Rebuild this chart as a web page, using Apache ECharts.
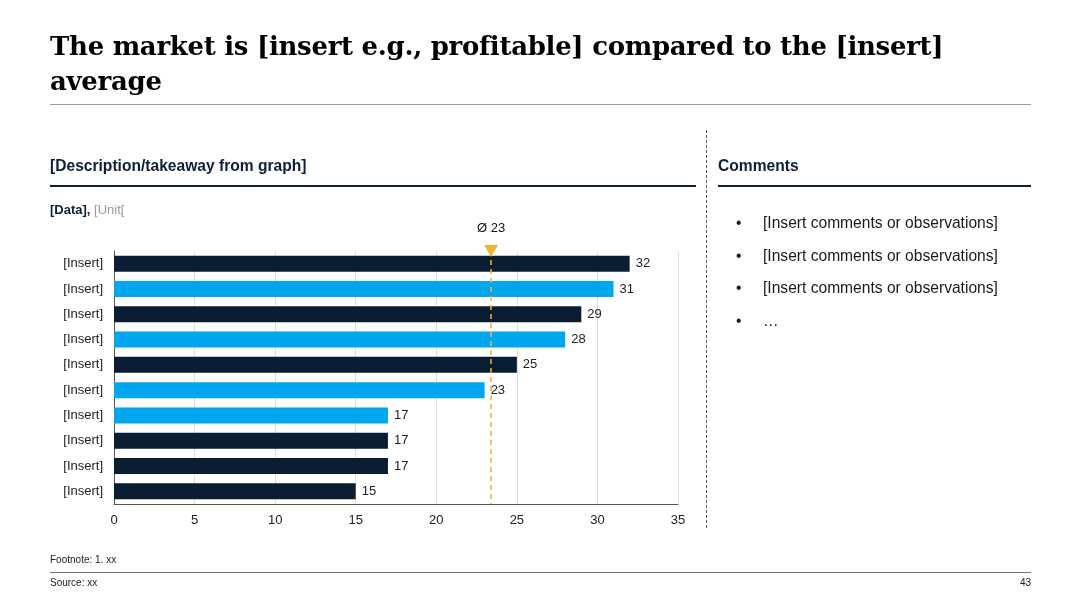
<!DOCTYPE html>
<html>
<head>
<meta charset="utf-8">
<script src="https://cdn.jsdelivr.net/npm/echarts@6/dist/echarts.min.js"></script>
<style>
  html, body { margin:0; padding:0; background:#fff; }
  #page { position:relative; width:1080px; height:608px; overflow:hidden; font-family: "Liberation Sans", Arial, sans-serif; color:#0d1f33; }
  #chart { position:absolute; left:0; top:0; width:1080px; height:608px; }
  .abs { position:absolute; white-space:nowrap; }
  #title { left:50px; top:29px; font-family:"DejaVu Serif", Georgia, serif; font-weight:bold; font-size:26px; line-height:35px; color:#000; letter-spacing:-0.3px; }
  .rule { position:absolute; height:0; }
  .h2 { font-weight:bold; font-size:15.6px; color:#0d1f33; }
  .bullets { font-size:15.6px; color:#1a1a1a; }
  .small { font-size:10px; color:#222; }
</style>
</head>
<body>
<div id="page">
  <div id="chart"></div>
  <div id="title" class="abs">The market is [insert e.g., profitable] compared to the [insert]<br>average</div>
  <div class="rule" style="left:50px; top:104px; width:981px; border-top:1px solid #9a9a9a;"></div>

  <div class="abs h2" style="left:50px; top:157px;">[Description/takeaway from graph]</div>
  <div class="rule" style="left:50px; top:185px; width:646px; border-top:2px solid #0d1f33;"></div>
  <div class="abs" style="left:50px; top:202px; font-size:13px;"><b>[Data],</b> <span style="color:#9a9a9a;">[Unit[</span></div>

  <div class="rule" style="left:706px; top:130px; width:0; height:398px; border-left:1.5px dashed #555;"></div>

  <div class="abs h2" style="left:718px; top:157px;">Comments</div>
  <div class="rule" style="left:718px; top:185px; width:313px; border-top:2px solid #0d1f33;"></div>
  <div id="comments"></div>

  <div class="abs small" style="left:50px; top:554px;">Footnote: 1. xx</div>
  <div class="rule" style="left:50px; top:572px; width:981px; border-top:1px solid #777;"></div>
  <div class="abs small" style="left:50px; top:577px;">Source: xx</div>
  <div class="abs small" style="left:1015px; top:577px; width:16px; text-align:right;">43</div>
</div>
<script>
// ---- data ----
const categories = ['[Insert]','[Insert]','[Insert]','[Insert]','[Insert]','[Insert]','[Insert]','[Insert]','[Insert]','[Insert]'];
const values = [32, 31, 29, 28, 25, 23, 17, 17, 17, 15];
const averageValue = 23.4;
const averageLabel = 'Ø 23';
const xTicks = [0, 5, 10, 15, 20, 25, 30, 35];
const comments = ['[Insert comments or observations]','[Insert comments or observations]','[Insert comments or observations]','…'];

// ---- styles ----
const DARK = '#0b1d32';
const BLUE = '#00a6ee';
const barColors = [DARK, BLUE, DARK, BLUE, DARK, BLUE, BLUE, DARK, DARK, DARK];

// comments list
const cBox = document.getElementById('comments');
comments.forEach((t, i) => {
  const b = document.createElement('div');
  b.className = 'abs bullets';
  b.style.left = '736px';
  b.style.top = (214 + i * 32.5) + 'px';
  b.innerHTML = '•';
  cBox.appendChild(b);
  const d = document.createElement('div');
  d.className = 'abs bullets';
  d.style.left = '763px';
  d.style.top = (214 + i * 32.5) + 'px';
  d.textContent = t;
  cBox.appendChild(d);
});

const chart = echarts.init(document.getElementById('chart'), null, { renderer: 'canvas' });
chart.setOption({
  animation: false,
  grid: { left: 114, right: 402, top: 251, bottom: 104, containLabel: false },
  xAxis: {
    type: 'value', min: xTicks[0], max: xTicks[xTicks.length - 1], interval: 5,
    axisLine: { show: true, lineStyle: { color: '#555', width: 1 } },
    axisTick: { show: false },
    splitLine: { show: true, lineStyle: { color: '#e0e0e0', width: 1 } },
    axisLabel: { color: '#222', fontSize: 13, margin: 10, fontFamily: 'Liberation Sans' }
  },
  yAxis: {
    type: 'category', data: categories, inverse: true,
    axisLine: { show: true, lineStyle: { color: '#555', width: 1 } },
    axisTick: { show: false },
    axisLabel: { color: '#222', fontSize: 13, margin: 11, fontFamily: 'Liberation Sans' }
  },
  series: [{
    type: 'bar',
    data: values.map((v, i) => ({ value: v, itemStyle: { color: barColors[i] } })),
    barWidth: 16,
    label: { show: true, position: 'right', color: '#222', fontSize: 13, distance: 6, fontFamily: 'Liberation Sans' },
    markLine: {
      silent: true,
      symbol: ['triangle', 'none'],
      symbolSize: [14, 12],
      symbolRotate: 180,
      symbolOffset: [0, 8],
      lineStyle: { color: '#f5b335', type: [5, 4], width: 1.5 },
      itemStyle: { color: '#f5b335' },
      label: { show: true, position: 'start', formatter: averageLabel, color: '#111', fontSize: 13, distance: 16, fontFamily: 'Liberation Sans' },
      data: [{ xAxis: averageValue }]
    }
  }]
});
</script>
</body>
</html>
